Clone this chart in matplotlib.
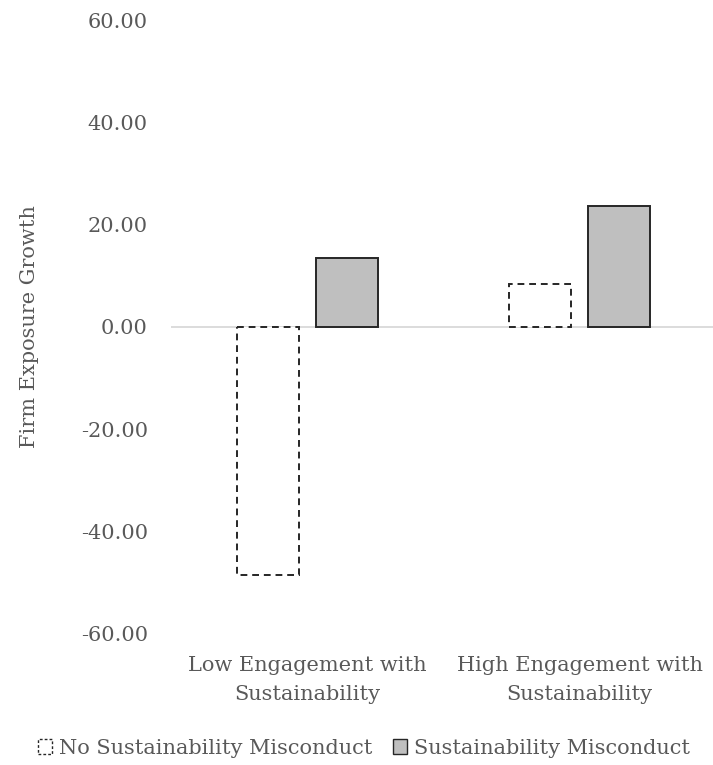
import matplotlib
matplotlib.use("Agg")
import matplotlib.pyplot as plt
import numpy as np
from matplotlib.patches import Patch

categories = ["Low Engagement with\nSustainability", "High Engagement with\nSustainability"]
series_names = ["No Sustainability Misconduct", "Sustainability Misconduct"]
no_misconduct = [-48.5, 8.4]
misconduct = [13.5, 23.7]
y_ticks = [-60, -40, -20, 0, 20, 40, 60]

TEXT = "#595959"
EDGE = "#262626"
FILL = "#bfbfbf"

plt.rcParams["font.family"] = ["DejaVu Serif"]

fig = plt.figure(figsize=(7.13, 7.65), dpi=100)
ax = fig.add_axes([0.2405, 0.1719, 0.7595, 0.8013])

x = np.arange(len(categories))
width = 0.228
offset = 0.145

ax.bar(x - offset, no_misconduct, width, facecolor="white", edgecolor=EDGE,
       linewidth=1.4, linestyle=(0, (3.5, 2.5)), zorder=3)
ax.bar(x + offset, misconduct, width, facecolor=FILL, edgecolor=EDGE,
       linewidth=1.4, zorder=3)

ax.axhline(0, color="#d9d9d9", linewidth=1.3, zorder=2)

ax.set_xlim(-0.5, 1.49)
ax.set_ylim(-60, 60)
ax.set_yticks(y_ticks)
ax.set_yticklabels([f"{v:.2f}" for v in y_ticks], fontsize=15, color=TEXT)
ax.set_xticks(x)
ax.set_xticklabels(categories, fontsize=15, color=TEXT, linespacing=1.7)
ax.tick_params(axis="both", length=0)
ax.tick_params(axis="y", pad=17)
ax.tick_params(axis="x", pad=16)
for s in ax.spines.values():
    s.set_visible(False)

ax.set_ylabel("Firm Exposure Growth", fontsize=15, color=TEXT)
ax.yaxis.set_label_coords(-0.245, 0.5)

handles = [
    Patch(facecolor="white", edgecolor=EDGE, linewidth=1.0, linestyle=(0, (2, 1.5))),
    Patch(facecolor=FILL, edgecolor=EDGE, linewidth=1.0),
]
fig.legend(handles, series_names, loc="center", bbox_to_anchor=(0.51, 0.022),
           ncol=2, frameon=False, fontsize=15, labelcolor=TEXT,
           handlelength=0.7, handleheight=0.7, handletextpad=0.3, columnspacing=1.0)

fig.savefig("out.png", dpi=100)
